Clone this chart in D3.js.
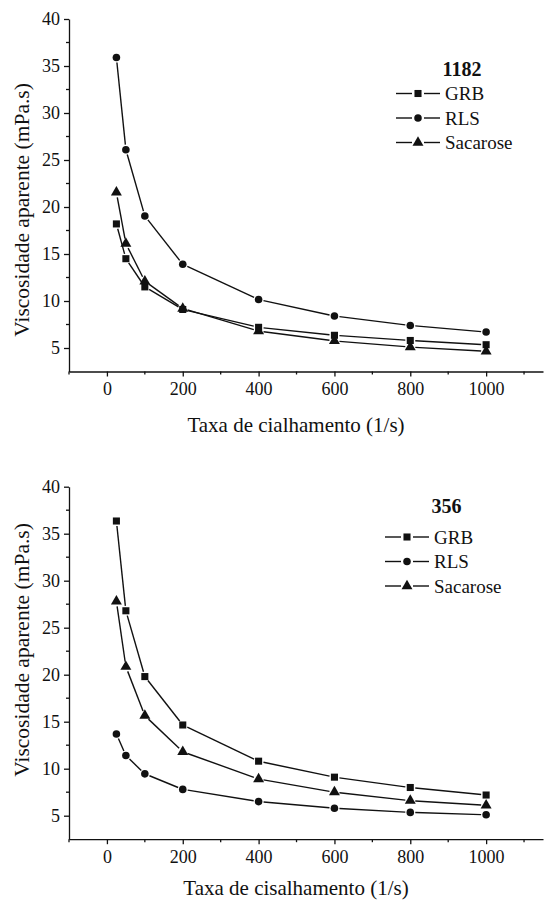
<!DOCTYPE html>
<html>
<head>
<meta charset="utf-8">
<script src="https://cdn.jsdelivr.net/npm/d3@7"></script>
<style>
  body { margin: 0; background: #fff; }
  svg text { font-family: "Liberation Serif", "Times New Roman", serif; fill: #111; }
</style>
</head>
<body>
<svg id="chart" width="544" height="902"></svg>
<script>
// Shear rates (1/s)
var shearRates = [25, 50, 100, 200, 400, 600, 800, 1000];
var seriesNames = ["GRB", "RLS", "Sacarose"];
var xTicks = [0, 200, 400, 600, 800, 1000];
var yTicks = [5, 10, 15, 20, 25, 30, 35, 40];

// Sample 1182
var grb1182 = [18.2, 14.5, 11.5, 9.1, 7.2, 6.35, 5.8, 5.35];
var rls1182 = [35.9, 26.1, 19.05, 13.9, 10.15, 8.4, 7.4, 6.7];
var sac1182 = [21.55, 16.1, 12.1, 9.2, 6.8, 5.75, 5.1, 4.65];

// Sample 356
var grb356 = [36.35, 26.8, 19.8, 14.65, 10.8, 9.1, 8.0, 7.2];
var rls356 = [13.7, 11.4, 9.45, 7.8, 6.5, 5.8, 5.35, 5.1];
var sac356 = [27.8, 20.85, 15.64, 11.8, 8.9, 7.5, 6.6, 6.1];

var svg = d3.select("#chart");

var symbols = {
    "GRB": d3.symbol().type(d3.symbolSquare).size(50),
    "RLS": d3.symbol().type(d3.symbolCircle).size(45),
    "Sacarose": d3.symbol().type(d3.symbolTriangle).size(52)
};

function drawPanel(opts) {
    var g = svg.append("g");

    var xScale = d3.scaleLinear().domain([-100, 1150]).range([69, 543]);
    var yScale = d3.scaleLinear().domain([2.5, 40]).range([opts.bottom, opts.top]);

    // x axis
    var xAxisG = g.append("g")
        .attr("transform", "translate(0," + opts.bottom + ")")
        .call(d3.axisBottom(xScale).tickValues(xTicks).tickFormat(d3.format("d"))
            .tickSize(5).tickSizeOuter(0).tickPadding(6));
    // minor x ticks
    g.append("g")
        .attr("transform", "translate(0," + opts.bottom + ")")
        .selectAll("line")
        .data(d3.range(-100, 1150, 100).filter(function(v) { return v % 200 !== 0; }))
        .enter().append("line")
        .attr("x1", function(d) { return xScale(d); })
        .attr("x2", function(d) { return xScale(d); })
        .attr("y1", 0).attr("y2", 3)
        .attr("stroke", "#111").attr("stroke-width", 1.3);

    // y axis
    var yAxisG = g.append("g")
        .attr("transform", "translate(" + xScale(-100) + ",0)")
        .call(d3.axisLeft(yScale).tickValues(yTicks).tickSize(5).tickSizeOuter(0).tickPadding(4));
    g.append("g")
        .attr("transform", "translate(" + xScale(-100) + ",0)")
        .selectAll("line")
        .data([7.5, 12.5, 17.5, 22.5, 27.5, 32.5, 37.5])
        .enter().append("line")
        .attr("y1", function(d) { return yScale(d); })
        .attr("y2", function(d) { return yScale(d); })
        .attr("x1", 0).attr("x2", -3)
        .attr("stroke", "#111").attr("stroke-width", 1.3);

    [xAxisG, yAxisG].forEach(function(a) {
        a.select(".domain").attr("stroke", "#111").attr("stroke-width", 1.3);
        a.selectAll(".tick line").attr("stroke", "#111").attr("stroke-width", 1.3);
        a.selectAll(".tick text").attr("font-size", 18).attr("fill", "#111");
    });

    // axis labels
    g.append("text")
        .attr("x", 296).attr("y", opts.bottom + opts.xLabelGap)
        .attr("text-anchor", "middle")
        .attr("font-size", 21)
        .text(opts.xLabel);

    g.append("text")
        .attr("transform", "translate(29," + opts.yLabelMid + ") rotate(-90)")
        .attr("text-anchor", "middle")
        .attr("font-size", 21.5)
        .text("Viscosidade aparente (mPa.s)");

    // series lines, with small gaps around markers
    opts.series.forEach(function(s) {
        var pts = shearRates.map(function(x, i) { return [xScale(x), yScale(s.values[i])]; });
        var segs = d3.pairs(pts).map(function(p) {
            var dx = p[1][0] - p[0][0], dy = p[1][1] - p[0][1];
            var len = Math.sqrt(dx * dx + dy * dy);
            var gap = Math.min(5, len / 3);
            var ux = dx / len, uy = dy / len;
            return [[p[0][0] + ux * gap, p[0][1] + uy * gap], [p[1][0] - ux * gap, p[1][1] - uy * gap]];
        });
        g.selectAll(null)
            .data(segs)
            .enter().append("line")
            .attr("x1", function(d) { return d[0][0]; })
            .attr("y1", function(d) { return d[0][1]; })
            .attr("x2", function(d) { return d[1][0]; })
            .attr("y2", function(d) { return d[1][1]; })
            .attr("stroke", "#111").attr("stroke-width", 1.4);

        g.selectAll(null)
            .data(pts)
            .enter().append("path")
            .attr("d", symbols[s.name])
            .attr("transform", function(d) { return "translate(" + d[0] + "," + d[1] + ")"; })
            .attr("fill", "#111");
    });

    // legend
    var leg = g.append("g");
    leg.append("text")
        .attr("x", opts.legTitleX).attr("y", opts.legTitleY)
        .attr("text-anchor", "middle")
        .attr("font-size", 20).attr("font-weight", "bold")
        .text(opts.title);

    var rows = leg.selectAll(".row")
        .data(seriesNames)
        .enter().append("g")
        .attr("class", "row")
        .attr("transform", function(d, i) { return "translate(" + opts.legX + "," + (opts.legY + i * 24.5) + ")"; });
    rows.append("line").attr("x1", 0).attr("x2", 16).attr("stroke", "#111").attr("stroke-width", 1.4);
    rows.append("line").attr("x1", 28).attr("x2", 44).attr("stroke", "#111").attr("stroke-width", 1.4);
    rows.append("path")
        .attr("d", function(d) { return symbols[d](); })
        .attr("transform", "translate(22,0)")
        .attr("fill", "#111");
    rows.append("text")
        .attr("x", 49).attr("y", 6.5)
        .attr("font-size", 19)
        .text(function(d) { return d; });
}

drawPanel({
    top: 19, bottom: 371.5, yLabelMid: 210, xLabelGap: 60,
    title: "1182", legTitleX: 462, legX: 396, legTitleY: 76, legY: 93.5,
    xLabel: "Taxa de cialhamento (1/s)",
    series: [
        {name: "GRB", values: grb1182},
        {name: "RLS", values: rls1182},
        {name: "Sacarose", values: sac1182}
    ]
});

drawPanel({
    top: 486.7, bottom: 839.2, yLabelMid: 650, xLabelGap: 56,
    title: "356", legTitleX: 446.5, legX: 385, legTitleY: 513, legY: 537,
    xLabel: "Taxa de cisalhamento (1/s)",
    series: [
        {name: "GRB", values: grb356},
        {name: "RLS", values: rls356},
        {name: "Sacarose", values: sac356}
    ]
});
</script>
</body>
</html>
